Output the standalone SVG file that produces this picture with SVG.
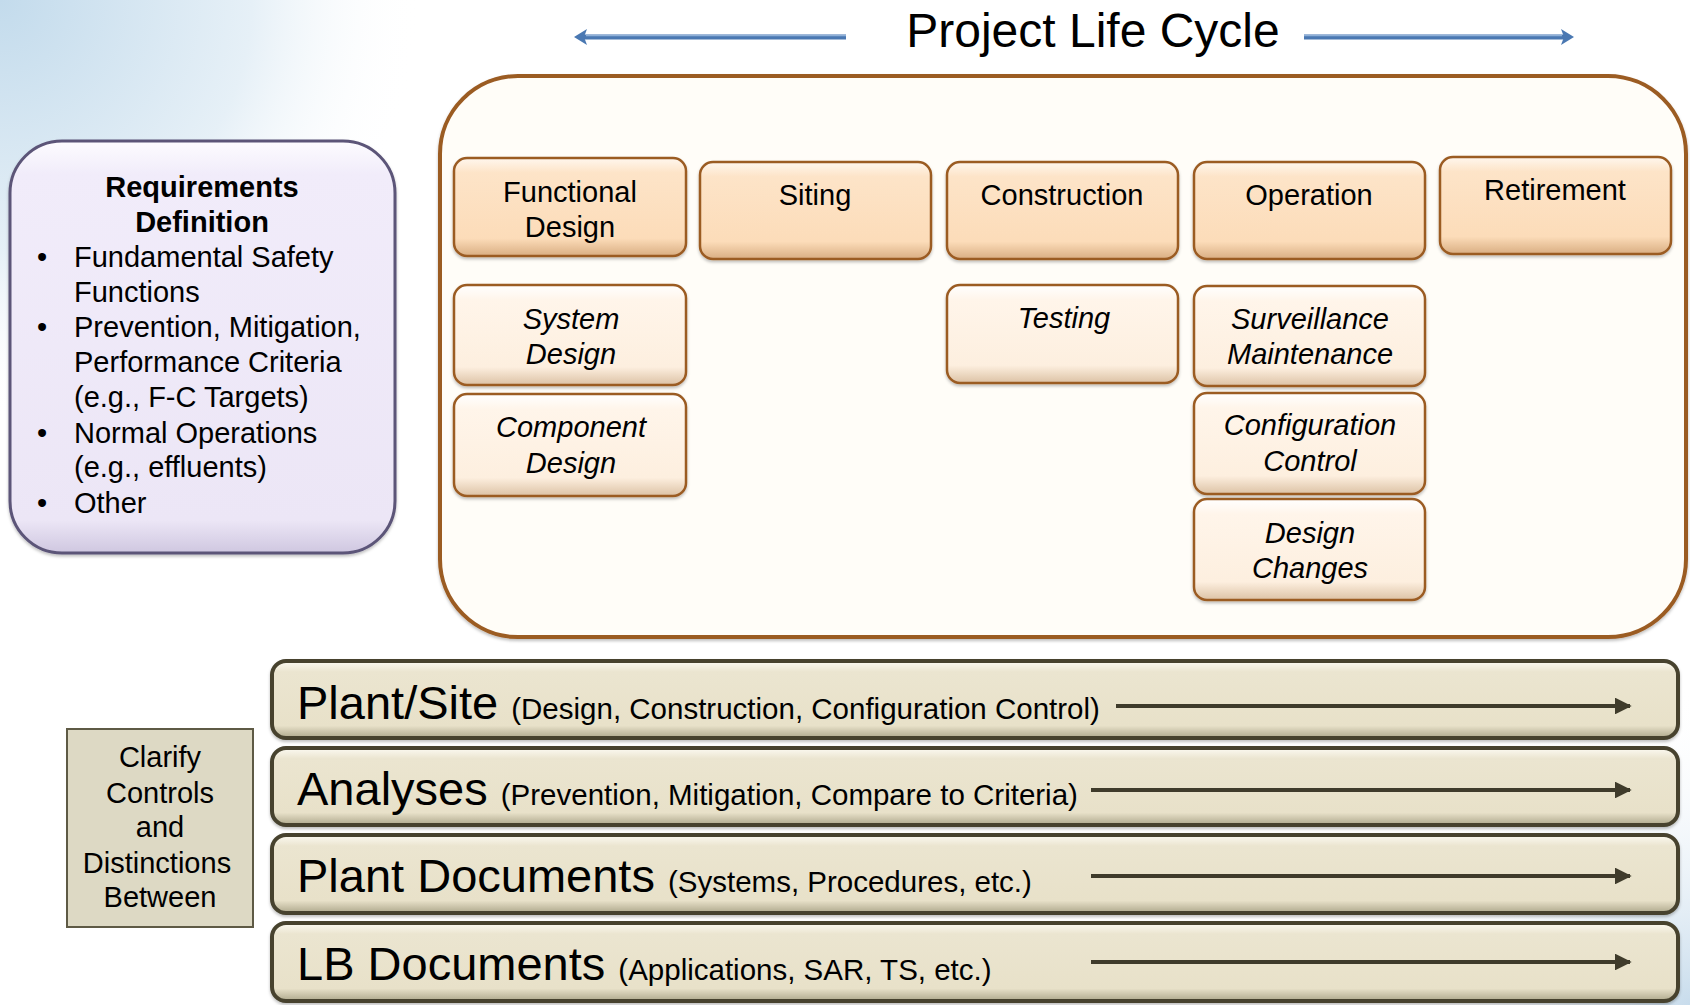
<svg xmlns="http://www.w3.org/2000/svg" width="1690" height="1005" viewBox="0 0 1690 1005">
<defs>
  <radialGradient id="bgTL" cx="0" cy="0" r="420" gradientUnits="userSpaceOnUse">
    <stop offset="0" stop-color="#c3dbec"/>
    <stop offset="0.6" stop-color="#e6f0f7"/>
    <stop offset="1" stop-color="#ffffff" stop-opacity="0"/>
  </radialGradient>
  <radialGradient id="bgBR" cx="1690" cy="1005" r="320" gradientUnits="userSpaceOnUse">
    <stop offset="0" stop-color="#c8dcec"/>
    <stop offset="1" stop-color="#ffffff" stop-opacity="0"/>
  </radialGradient>
  <linearGradient id="gTop" x1="0" y1="0" x2="0" y2="1">
    <stop offset="0" stop-color="#fff7ee"/>
    <stop offset="0.15" stop-color="#fde4c8"/>
    <stop offset="0.82" stop-color="#fcdcb9"/>
    <stop offset="1" stop-color="#d9ae82"/>
  </linearGradient>
  <linearGradient id="gSub" x1="0" y1="0" x2="0" y2="1">
    <stop offset="0" stop-color="#ffffff"/>
    <stop offset="0.15" stop-color="#fff5ea"/>
    <stop offset="0.82" stop-color="#fdefdf"/>
    <stop offset="1" stop-color="#dcc2a5"/>
  </linearGradient>
  <linearGradient id="gBar" x1="0" y1="0" x2="0" y2="1">
    <stop offset="0" stop-color="#fcfaf2"/>
    <stop offset="0.14" stop-color="#ebe5d0"/>
    <stop offset="0.84" stop-color="#e8e1c9"/>
    <stop offset="1" stop-color="#aea88c"/>
  </linearGradient>
  <linearGradient id="gReq" x1="0" y1="0" x2="0" y2="1">
    <stop offset="0" stop-color="#fdfcff"/>
    <stop offset="0.08" stop-color="#f1ecfa"/>
    <stop offset="0.92" stop-color="#ece6f6"/>
    <stop offset="1" stop-color="#cfc7e0"/>
  </linearGradient>
  <marker id="arrBar" viewBox="0 0 10 10" refX="9" refY="5" markerWidth="4.2" markerHeight="4.2" orient="auto" markerUnits="strokeWidth">
    <path d="M0,0 L10,5 L0,10 z" fill="#3f3b2b"/>
  </marker>
  <filter id="sh" x="-5%" y="-5%" width="110%" height="120%">
    <feDropShadow dx="0" dy="2" stdDeviation="1.5" flood-color="#000000" flood-opacity="0.25"/>
  </filter>
</defs>
<style>
  text { font-family: "Liberation Sans", Arial, sans-serif; fill: #000000; }
  .title { font-size: 48px; text-anchor: middle; }
  .box { font-size: 29px; text-anchor: middle; }
  .it { font-style: italic; }
  .req { font-size: 29px; }
  .bold { font-weight: bold; }
  .top { fill: url(#gTop); stroke: #9b5b24; stroke-width: 2.5; filter: url(#sh); }
  .sub { fill: url(#gSub); stroke: #9b5b24; stroke-width: 2.5; filter: url(#sh); }
  .bar { fill: url(#gBar); stroke: #47432f; stroke-width: 4; filter: url(#sh); }
  .big { font-size: 47px; }
  .small { font-size: 29.5px; }
  .barArrow { stroke: #3f3b2b; stroke-width: 4; fill: none; marker-end: url(#arrBar); }
  .blueLine { stroke: #4a78b2; stroke-width: 5; fill: none; }
  .blueHi { stroke: #8fb0d8; stroke-width: 1.5; fill: none; }
</style>

<rect x="0" y="0" width="1690" height="1005" fill="#ffffff"/>
<rect x="0" y="0" width="1690" height="1005" fill="url(#bgTL)"/>
<rect x="0" y="0" width="1690" height="1005" fill="url(#bgBR)"/>

<g id="title">
  <text class="title" x="1093" y="47">Project Life Cycle</text>
</g>

<g id="lifecycle-container">
  <rect x="440" y="76" width="1246" height="561" rx="78" ry="78" fill="#fffdf8" stroke="#9b5b24" stroke-width="4" filter="url(#sh)"/>
</g>

<g id="requirements">
  <rect x="10" y="141" width="385" height="412" rx="52" ry="52" fill="url(#gReq)" stroke="#5b5478" stroke-width="3" filter="url(#sh)"/>
  <text class="req bold" x="202" y="197" text-anchor="middle">Requirements</text>
  <text class="req bold" x="202" y="232" text-anchor="middle">Definition</text>
  <text class="req" x="37" y="267">•</text><text class="req" x="74" y="267">Fundamental Safety</text>
  <text class="req" x="74" y="302">Functions</text>
  <text class="req" x="37" y="337">•</text><text class="req" x="74" y="337">Prevention, Mitigation,</text>
  <text class="req" x="74" y="372">Performance Criteria</text>
  <text class="req" x="74" y="407">(e.g., F-C Targets)</text>
  <text class="req" x="37" y="443">•</text><text class="req" x="74" y="443">Normal Operations</text>
  <text class="req" x="74" y="477">(e.g., effluents)</text>
  <text class="req" x="37" y="513">•</text><text class="req" x="74" y="513">Other</text>
</g>

<g id="functional-design">
  <rect class="top" x="454" y="158" width="232" height="98" rx="13"/>
  <text class="box" x="570" y="202">Functional</text>
  <text class="box" x="570" y="237">Design</text>
</g>
<g id="siting">
  <rect class="top" x="700" y="162" width="231" height="97" rx="13"/>
  <text class="box" x="815" y="205">Siting</text>
</g>
<g id="construction">
  <rect class="top" x="947" y="162" width="231" height="97" rx="13"/>
  <text class="box" x="1062" y="205">Construction</text>
</g>
<g id="operation">
  <rect class="top" x="1194" y="162" width="231" height="97" rx="13"/>
  <text class="box" x="1309" y="205">Operation</text>
</g>
<g id="retirement">
  <rect class="top" x="1440" y="157" width="231" height="97" rx="13"/>
  <text class="box" x="1555" y="200">Retirement</text>
</g>

<g id="system-design">
  <rect class="sub" x="454" y="285" width="232" height="100" rx="13"/>
  <text class="box it" x="571" y="329">System</text>
  <text class="box it" x="571" y="364">Design</text>
</g>
<g id="component-design">
  <rect class="sub" x="454" y="394" width="232" height="102" rx="13"/>
  <text class="box it" x="571" y="437">Component</text>
  <text class="box it" x="571" y="473">Design</text>
</g>
<g id="testing">
  <rect class="sub" x="947" y="285" width="231" height="98" rx="13"/>
  <text class="box it" x="1064" y="328">Testing</text>
</g>
<g id="surveillance-maintenance">
  <rect class="sub" x="1194" y="286" width="231" height="100" rx="13"/>
  <text class="box it" x="1310" y="329">Surveillance</text>
  <text class="box it" x="1310" y="364">Maintenance</text>
</g>
<g id="configuration-control">
  <rect class="sub" x="1194" y="393" width="231" height="101" rx="13"/>
  <text class="box it" x="1310" y="435">Configuration</text>
  <text class="box it" x="1310" y="471">Control</text>
</g>
<g id="design-changes">
  <rect class="sub" x="1194" y="499" width="231" height="101" rx="13"/>
  <text class="box it" x="1310" y="543">Design</text>
  <text class="box it" x="1310" y="578">Changes</text>
</g>

<g id="clarify">
  <rect x="67" y="729" width="186" height="198" fill="#ddd9c4" stroke="#5e5a45" stroke-width="2"/>
  <text class="box" x="160" y="767">Clarify</text>
  <text class="box" x="160" y="803">Controls</text>
  <text class="box" x="160" y="837">and</text>
  <text class="box" x="157" y="873">Distinctions</text>
  <text class="box" x="160" y="907">Between</text>
</g>

<g id="plant-site">
  <rect class="bar" x="272" y="661" width="1406" height="77" rx="14"/>
  <text x="297" y="719"><tspan class="big">Plant/Site </tspan><tspan class="small">(Design, Construction, Configuration Control)</tspan></text>
</g>
<g id="analyses">
  <rect class="bar" x="272" y="748" width="1406" height="77" rx="14"/>
  <text x="297" y="805"><tspan class="big">Analyses </tspan><tspan class="small">(Prevention, Mitigation, Compare to Criteria)</tspan></text>
</g>
<g id="plant-documents">
  <rect class="bar" x="272" y="835" width="1406" height="78" rx="14"/>
  <text x="297" y="892"><tspan class="big">Plant Documents </tspan><tspan class="small">(Systems, Procedures, etc.)</tspan></text>
</g>
<g id="lb-documents">
  <rect class="bar" x="272" y="923" width="1406" height="78" rx="14"/>
  <text x="297" y="980"><tspan class="big">LB Documents </tspan><tspan class="small">(Applications, SAR, TS, etc.)</tspan></text>
</g>

<g id="connectors">
  <line class="blueLine" x1="846" y1="37" x2="584" y2="37"/>
  <line class="blueHi" x1="846" y1="35.5" x2="586" y2="35.5"/>
  <path d="M574,37 L587,29 L584,37 L587,45 z" fill="#4a78b2"/>
  <line class="blueLine" x1="1304" y1="37" x2="1564" y2="37"/>
  <line class="blueHi" x1="1304" y1="35.5" x2="1562" y2="35.5"/>
  <path d="M1574,37 L1561,29 L1564,37 L1561,45 z" fill="#4a78b2"/>
  <line class="barArrow" x1="1116" y1="706" x2="1630" y2="706"/>
  <line class="barArrow" x1="1091" y1="790" x2="1630" y2="790"/>
  <line class="barArrow" x1="1091" y1="876" x2="1630" y2="876"/>
  <line class="barArrow" x1="1091" y1="962" x2="1630" y2="962"/>
</g>
</svg>
